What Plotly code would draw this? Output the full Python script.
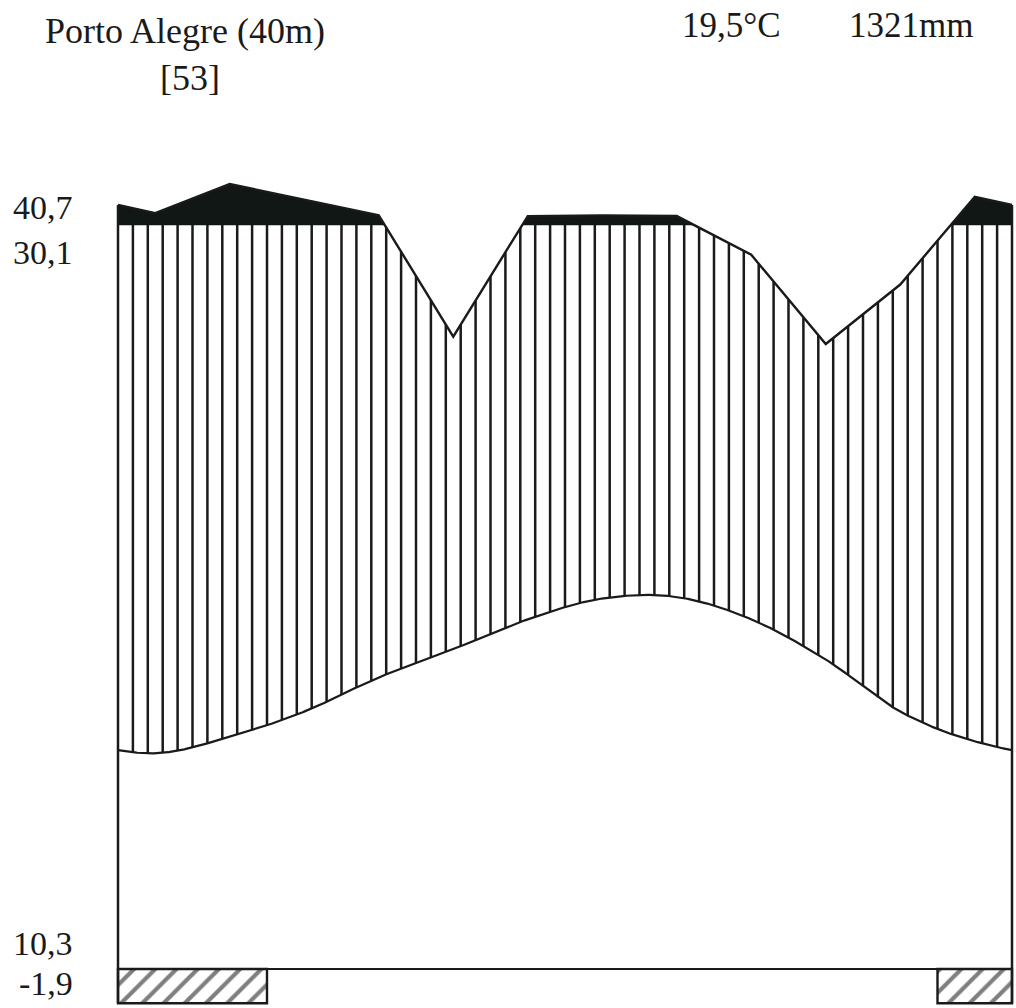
import numpy as np
import plotly.graph_objects as go

# Climate diagram (Walter-Lieth style), southern hemisphere: July .. June
months = ["Jul", "Aug", "Sep", "Oct", "Nov", "Dec", "Jan", "Feb", "Mar", "Apr", "May", "Jun"]
temp_c = [14.5, 15.6, 17.3, 19.6, 21.5, 23.5, 24.9, 25.0, 23.5, 20.8, 17.3, 15.3]
precip_mm = [116, 155, 134, 113, 85, 112, 113, 112, 96, 84, 92, 138]
frost_flag = [1, 1, 0, 0, 0, 0, 0, 0, 0, 0, 0, 1]  # months with possible frost

station_label = "Porto Alegre (40m)"
station_ref = "[53]"
mean_temp_label = "19,5°C"
annual_precip_label = "1321mm"
# absolute max, mean max of warmest month, mean min of coldest month, absolute min
side_labels = ["40,7", "30,1", "10,3", "-1,9"]

W, H = 1016, 1008
FONT = "Liberation Serif, Times New Roman, serif"
INK = "#1a1a1a"

n = len(months)
xm = np.arange(1, n + 1, dtype=float)


def precip_scale(p):
    """10 °C = 20 mm up to 100 mm, then 10 °C = 200 mm."""
    p = np.asarray(p, dtype=float)
    return np.where(p <= 100, p / 2.0, 50.0 + (p - 100.0) / 20.0)


def smooth_periodic(vals, xs):
    """Periodic Catmull-Rom curve through the monthly values."""
    v = np.asarray(vals, dtype=float)
    out = np.empty_like(xs)
    for i, x in enumerate(xs):
        j = int(np.floor(x))
        if j >= n + 1:
            j = n
        t = x - j
        p0, p1, p2, p3 = v[(j - 2) % n], v[(j - 1) % n], v[j % n], v[(j + 1) % n]
        out[i] = 0.5 * (2 * p1 + (-p0 + p2) * t
                        + (2 * p0 - 5 * p1 + 4 * p2 - p3) * t ** 2
                        + (-p0 + 3 * p1 - 3 * p2 + p3) * t ** 3)
    return out


pu = precip_scale(precip_mm)
x_ext = np.concatenate([[0.0], xm, [n + 1.0]])
pu_ext = np.concatenate([[pu[-1]], pu, [pu[0]]])


def precip_at(xs):
    return np.interp(xs, x_ext, pu_ext)


xs = np.linspace(0.5, n + 0.5, 1201)
t_dense = smooth_periodic(temp_c, xs)

fig = go.Figure()

# very humid part (> 100 mm) in solid black: one polygon per stretch above 50
knots = [0.5] + list(xm) + [n + 0.5]
pts = []
for a, b in zip(knots[:-1], knots[1:]):
    ya, yb = float(precip_at([a])[0]), float(precip_at([b])[0])
    pts.append((a, ya))
    if (ya - 50) * (yb - 50) < 0:
        xc = a + (50 - ya) / (yb - ya) * (b - a)
        pts.append((xc, 50.0))
pts.append((knots[-1], float(precip_at([knots[-1]])[0])))

runs_hi = []
cur = []
for (x, y) in pts:
    if y >= 50 - 1e-9:
        cur.append((x, y))
    else:
        if len(cur) > 1:
            runs_hi.append(cur)
        cur = []
if len(cur) > 1:
    runs_hi.append(cur)

for run in runs_hi:
    rx = [p[0] for p in run]
    ry = [p[1] for p in run]
    poly_x = rx + rx[::-1] + [rx[0]]
    poly_y = ry + [50.0] * len(rx) + [ry[0]]
    fig.add_trace(go.Scatter(x=poly_x, y=poly_y, mode="lines", fill="toself",
                             fillcolor="#111714", line=dict(width=0.5, color="#111714"),
                             hoverinfo="skip"))

# humid period: vertical hatching between temperature and precipitation
hx = 0.5 + 0.2 * np.arange(1, 5 * n)
h_bot = smooth_periodic(temp_c, hx)
h_top = np.minimum(precip_at(hx), 50.0)
lx, ly = [], []
for x, b, t in zip(hx, h_bot, h_top):
    if t > b:
        lx += [x, x, None]
        ly += [b, t, None]
fig.add_trace(go.Scatter(x=lx, y=ly, mode="lines",
                         line=dict(color=INK, width=2.5), hoverinfo="skip"))

# temperature curve
fig.add_trace(go.Scatter(x=xs, y=t_dense, mode="lines",
                         line=dict(color=INK, width=2.2), hoverinfo="skip"))

# precipitation curve
px_line = np.array(knots)
fig.add_trace(go.Scatter(x=px_line, y=precip_at(px_line), mode="lines",
                         line=dict(color=INK, width=2.4), hoverinfo="skip"))

# 0 °C baseline and side borders
fig.add_trace(go.Scatter(x=[0.5, n + 0.5], y=[0, 0], mode="lines",
                         line=dict(color=INK, width=2.2), hoverinfo="skip"))
for xe in (0.5, n + 0.5):
    fig.add_trace(go.Scatter(x=[xe, xe], y=[-2.3, float(precip_at([xe])[0])], mode="lines",
                             line=dict(color=INK, width=2.5), hoverinfo="skip"))

# frost months as hatched bars below the baseline
runs = []
start = None
for i, f in enumerate(frost_flag + [0]):
    if f and start is None:
        start = i
    elif not f and start is not None:
        runs.append((start, i - 1))
        start = None
bar_x = [(a + b) / 2.0 + 1 for a, b in runs]
bar_w = [b - a + 1 for a, b in runs]
fig.add_trace(go.Bar(x=bar_x, y=[-2.3] * len(runs), base=0, width=bar_w,
                     marker=dict(color="white", line=dict(color=INK, width=2.4),
                                 pattern=dict(shape="/", size=15, solidity=0.28,
                                              fgcolor="#000000", bgcolor="white")),
                     hoverinfo="skip"))


def py(y_px):
    return 1 - y_px / H


def px(x_px):
    return x_px / W


ann = [
    dict(text=station_label, x=px(185), y=py(31), xanchor="center", size=36),
    dict(text=station_ref, x=px(190), y=py(78), xanchor="center", size=36),
    dict(text=mean_temp_label, x=px(731), y=py(25), xanchor="center", size=35),
    dict(text=annual_precip_label, x=px(911), y=py(25), xanchor="center", size=35),
]
for lab, ymid in zip(side_labels, [207.5, 252.5, 943.5, 983.5]):
    ann.append(dict(text=lab, x=px(75), y=py(ymid), xanchor="right", size=34))

fig.update_layout(
    width=W, height=H,
    margin=dict(l=0, r=0, t=0, b=0),
    paper_bgcolor="white", plot_bgcolor="white",
    showlegend=False,
    xaxis=dict(range=[0.5 - 118 / 74.5, 0.5 + 898 / 74.5], visible=False, fixedrange=True),
    yaxis=dict(range=[-39 / 14.88, 969 / 14.88], visible=False, fixedrange=True),
    annotations=[dict(text=a["text"], x=a["x"], y=a["y"], xref="paper", yref="paper",
                      xanchor=a["xanchor"], yanchor="middle", showarrow=False,
                      font=dict(family=FONT, size=a["size"], color=INK))
                 for a in ann],
)

fig.write_html("out.html")
